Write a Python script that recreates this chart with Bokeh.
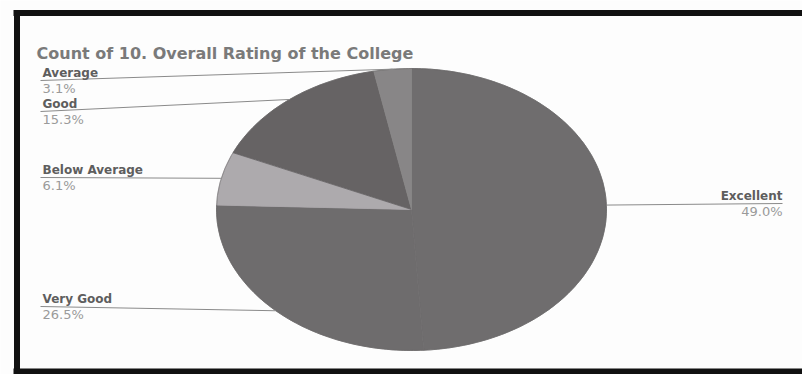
import numpy as np
from bokeh.plotting import figure
from bokeh.models import Range1d, ColumnDataSource
from bokeh.core.properties import value
from bokeh.embed import file_html
from bokeh.resources import INLINE

# ---------------- data ----------------
title_text = "Count of 10. Overall Rating of the College"
categories = ["Excellent", "Very Good", "Below Average", "Good", "Average"]
percents = [49.0, 26.5, 6.1, 15.3, 3.1]
slice_colors = ["#6f6d6e", "#6e6c6d", "#adaaad", "#666364", "#888687"]

# ---------------- layout (page pixels) ----------------
W, H = 802, 374
CX, CY = 411, 209
RX, RY = 195, 141
# name-label position (x, y centre) and alignment
label_pos = {
    "Excellent": (782, 195, "right"),
    "Very Good": (42, 298, "left"),
    "Below Average": (42, 169, "left"),
    "Good": (42, 103, "left"),
    "Average": (42, 72, "left"),
}
LINE_DY = 8
PCT_DY = 16
FONT = "DejaVu Sans"


def yd(ypix):
    return H - ypix


p = figure(width=W, height=H, output_backend="svg", toolbar_location=None,
           x_range=Range1d(0, W), y_range=Range1d(0, H),
           min_border=0, background_fill_color="#fdfdfd", border_fill_color="#ffffff")
p.axis.visible = False
p.grid.visible = False
p.outline_line_color = None

# ---- pie slices (elliptical) ----
total = sum(percents)
fracs = np.array(percents) / total
ends = np.cumsum(fracs) * 2 * np.pi
starts = ends - fracs * 2 * np.pi
xs, ys, mids = [], [], []
for a0, a1 in zip(starts, ends):
    n = max(3, int(np.degrees(a1 - a0)) + 2)
    t = np.linspace(a0, a1, n)
    px = [CX] + list(CX + RX * np.sin(t))
    py = [yd(CY)] + list(yd(CY) + RY * np.cos(t))
    xs.append(px)
    ys.append(py)
    mids.append((a0 + a1) / 2)
src = ColumnDataSource(dict(xs=xs, ys=ys, color=slice_colors, cat=categories))
p.patches("xs", "ys", fill_color="color", line_color="color", line_width=0.8, source=src)
p.ellipse([CX], [yd(CY)], width=2 * RX, height=2 * RY, fill_color=None,
          line_color="#6a6868", line_width=1, line_alpha=0.5)

# ---- labels and leader lines ----
for cat, pct, m in zip(categories, percents, mids):
    lx, ly, align = label_pos[cat]
    ex = CX + RX * np.sin(m)
    ey = yd(CY) + RY * np.cos(m)
    liney = yd(ly + LINE_DY)
    if align == "left":
        p.line([lx - 2, ex], [liney, ey], line_color="#8a8a8a", line_width=1)
    else:
        p.line([ex, lx], [ey, liney], line_color="#8a8a8a", line_width=1)
    p.text([lx], [yd(ly)], text=[cat], text_align=align, text_baseline="middle",
           text_font=value(FONT), text_font_style="bold", text_font_size="12px",
           text_color="#5e5e5e")
    p.text([lx], [yd(ly + PCT_DY)], text=[f"{pct:.1f}%"], text_align=align,
           text_baseline="middle", text_font=value(FONT), text_font_size="13px",
           text_color="#9a9a9a")

# ---- title ----
p.text([36], [yd(53)], text=[title_text], text_align="left", text_baseline="alphabetic",
       text_font=value(FONT), text_font_style="bold", text_font_size="16px",
       text_color="#7a7a7a")

# ---- frame border ----
p.line([13, W], [yd(12.5), yd(12.5)], line_color="#111111", line_width=6)
p.line([16.5, 16.5], [yd(10), yd(H)], line_color="#111111", line_width=6)
p.line([13, W], [yd(371), yd(371)], line_color="#111111", line_width=6)

open("out.html", "w").write(file_html(p, INLINE))
